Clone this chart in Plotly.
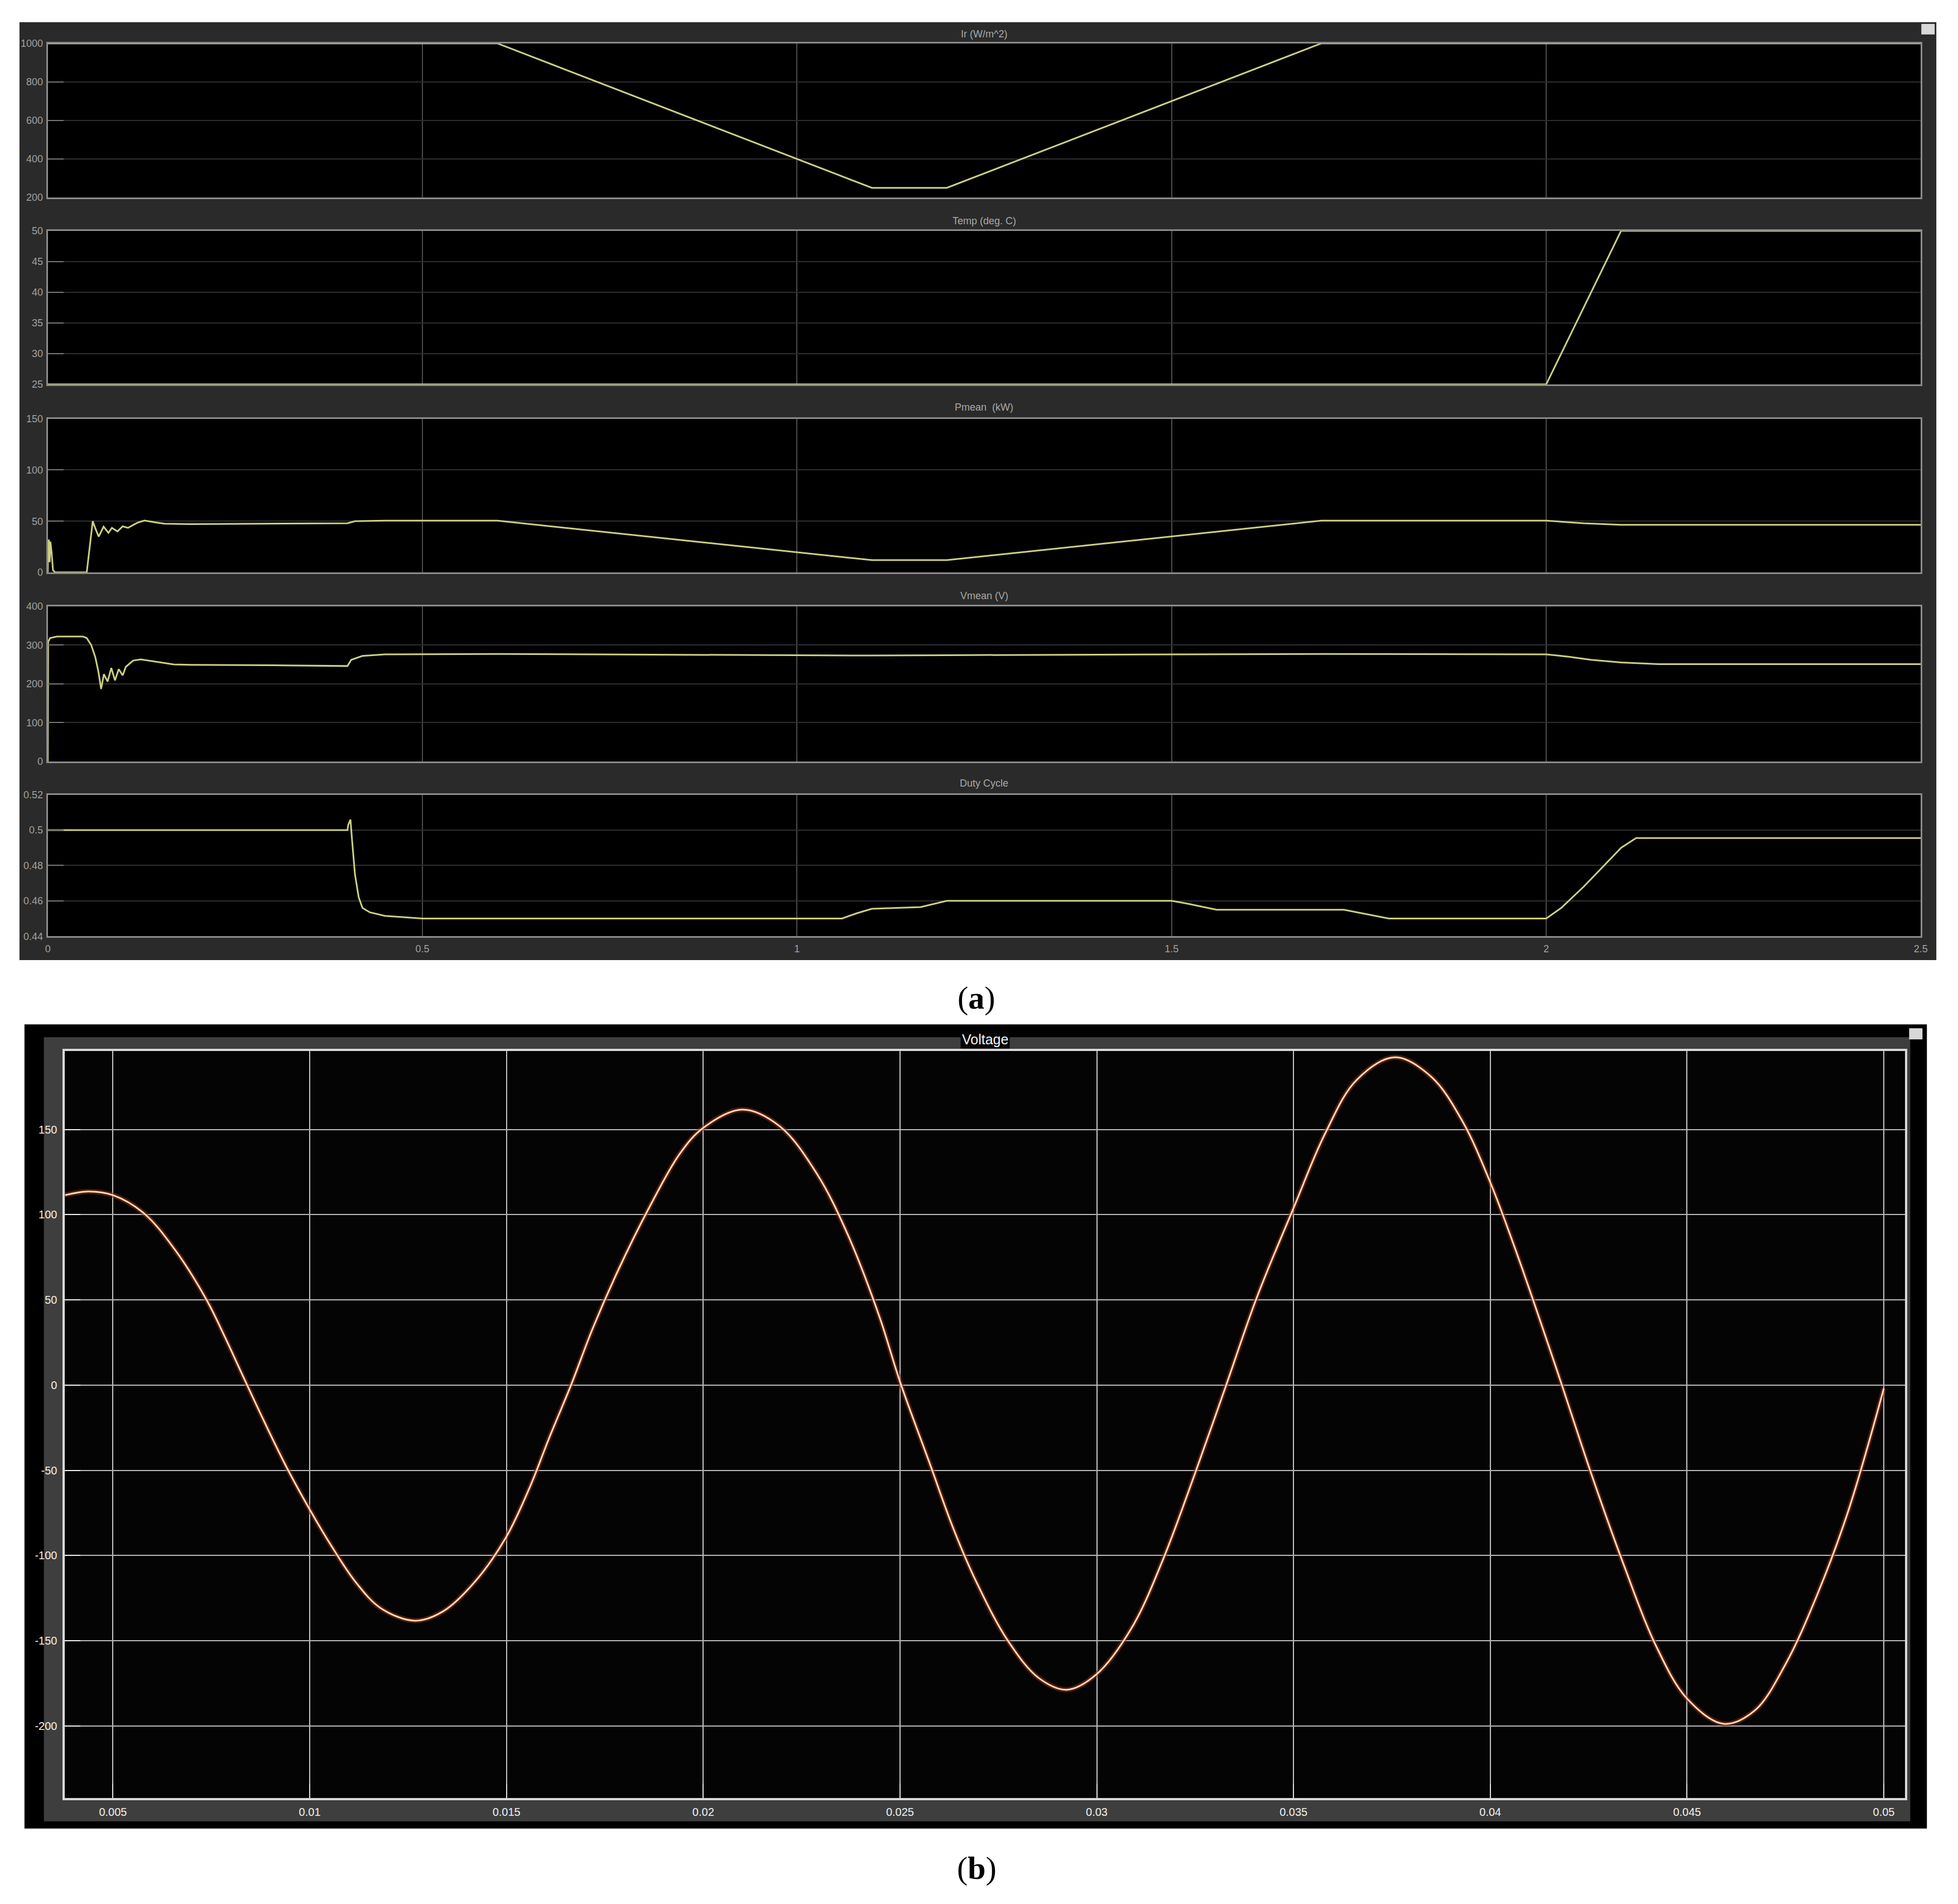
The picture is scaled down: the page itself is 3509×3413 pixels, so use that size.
import plotly.graph_objects as go

W, H = 3509, 3413

# ---------------- data: panel (a) ----------------
t_ir = [0, 0.6, 1.1, 1.2, 1.7, 2.5]
ir = [1000, 1000, 250, 250, 1000, 1000]

t_temp = [0, 2.0, 2.1, 2.5]
temp = [25, 25, 50, 50]

t_p = [0, 0.0005, 0.0015, 0.0025, 0.0035, 0.005, 0.007, 0.01, 0.052, 0.056, 0.06, 0.064, 0.068,
       0.0745, 0.081, 0.0856, 0.093, 0.1, 0.107, 0.119, 0.129, 0.144, 0.156, 0.19, 0.3, 0.4,
       0.41, 0.45, 0.6, 1.0, 1.1, 1.2, 1.7, 2.0, 2.05, 2.1, 2.5]
pmean = [0, 25, 32, 10, 30, 20, 2, 0, 0, 25, 50, 42, 35,
         44.7, 38.6, 43.5, 40, 45, 43.5, 48.3, 50.7, 48.8, 47.6, 47.2, 47.5, 48,
         50, 50.5, 50.5, 20, 12, 12, 50.5, 50.5, 48, 46.5, 46.5]

t_v = [0, 0.0005, 0.003, 0.012, 0.047, 0.052, 0.058, 0.0634, 0.0676, 0.0712, 0.0749, 0.0798,
       0.0848, 0.0897, 0.0947, 0.1, 0.1042, 0.114, 0.124, 0.144, 0.168, 0.19, 0.3, 0.4, 0.405,
       0.42, 0.45, 0.6, 1.0, 1.1, 1.2, 1.5, 1.7, 2.0, 2.03, 2.06, 2.1, 2.15, 2.5]
vmean = [0, 308, 318, 322, 322, 318, 300, 269, 231, 187, 225, 206,
         241, 209, 238, 222, 244, 260, 263, 257, 250, 249, 248, 246, 262,
         272, 276, 277, 274, 273, 274, 276, 277, 276, 270, 262, 255, 251, 251]

t_d = [0, 0.4, 0.401, 0.404, 0.406, 0.41, 0.415, 0.42, 0.43, 0.45, 0.5, 1.06, 1.08, 1.1, 1.165,
       1.18, 1.2, 1.22, 1.5, 1.52, 1.56, 1.73, 1.76, 1.79, 2.0, 2.02, 2.05, 2.08, 2.1, 2.12, 2.5]
duty = [0.5, 0.5, 0.503, 0.506, 0.495, 0.475, 0.462, 0.456, 0.4535, 0.4515, 0.45, 0.45, 0.453,
        0.4555, 0.4565, 0.458, 0.46, 0.46, 0.46, 0.4585, 0.455, 0.455, 0.4525, 0.45, 0.45, 0.456,
        0.468, 0.481, 0.49, 0.4955, 0.4955]

a_titles = ["Ir (W/m^2)", "Temp (deg. C)", "Pmean  (kW)", "Vmean (V)", "Duty Cycle"]
a_xticks = [0, 0.5, 1, 1.5, 2, 2.5]
a_xticktext = ["0", "0.5", "1", "1.5", "2", "2.5"]
a_yticks = [
    [200, 400, 600, 800, 1000],
    [25, 30, 35, 40, 45, 50],
    [0, 50, 100, 150],
    [0, 100, 200, 300, 400],
    [0.44, 0.46, 0.48, 0.5, 0.52],
]
a_yticktext = [
    ["200", "400", "600", "800", "1000"],
    ["25", "30", "35", "40", "45", "50"],
    ["0", "50", "100", "150"],
    ["0", "100", "200", "300", "400"],
    ["0.44", "0.46", "0.48", "0.5", "0.52"],
]
a_yranges = [[200, 1000], [25, 50], [0, 150], [0, 400], [0.44, 0.52]]

# ---------------- data: panel (b) ----------------
vt = [0.00378, 0.00437, 0.005, 0.00579, 0.00658, 0.00738, 0.00785, 0.00833, 0.00896, 0.00943,
      0.01, 0.01054, 0.01118, 0.01181, 0.01268, 0.01339, 0.01418, 0.01498, 0.01561, 0.01608,
      0.01664, 0.01719, 0.01783, 0.01862, 0.01941, 0.02, 0.02099, 0.02194, 0.02289, 0.02368,
      0.02448, 0.025, 0.02574, 0.02637, 0.02695, 0.02774, 0.02853, 0.02924, 0.03, 0.0309,
      0.03169, 0.03248, 0.03328, 0.03407, 0.035, 0.03581, 0.0366, 0.03758, 0.0385, 0.03929,
      0.04, 0.04071, 0.0415, 0.04182, 0.04261, 0.0434, 0.04419, 0.045, 0.04593, 0.04672,
      0.04751, 0.0483, 0.04909, 0.05]
vv = [111.5, 113.7, 111.5, 100.8, 79.3, 50, 28, 4, -27, -49,
      -73, -94, -116, -131, -138.3, -132.8, -115.9, -89.7, -59, -31.3,
      0, 33.2, 67, 103.9, 136, 151, 161.7, 152, 124, 88,
      40, 2, -45, -85, -116, -150, -172, -178.8, -169.6, -142,
      -102, -52.9, -0.6, 51.6, 103.9, 148, 179, 192.4, 181, 155,
      119, 75, 22, 0, -55, -106, -152, -184, -198.8, -191,
      -163.5, -123.5, -74.4, -2]

b_xticks = [0.005, 0.01, 0.015, 0.02, 0.025, 0.03, 0.035, 0.04, 0.045, 0.05]
b_xticktext = ["0.005", "0.01", "0.015", "0.02", "0.025", "0.03", "0.035", "0.04", "0.045", "0.05"]
b_yticks = [150, 100, 50, 0, -50, -100, -150, -200]
b_yticktext = ["150", "100", "50", "0", "-50", "-100", "-150", "-200"]


def PX(x):
    return x / W


def PY(y):
    return 1 - y / H


def prect(x0, y0, x1, y1, color):
    return dict(type="rect", xref="paper", yref="paper", x0=PX(x0), x1=PX(x1),
                y0=PY(y1), y1=PY(y0), fillcolor=color, line=dict(width=0), layer="below")


fig = go.Figure()
shapes = [
    prect(22, 22, 3475, 1713, "#2a2a2a"),      # panel (a) frame
    prect(31, 1829, 3458, 3279, "#000000"),    # panel (b) frame
    prect(66, 1852, 3428, 3266, "#3e3e3e"),    # panel (b) grey band
]

# ---------- panel (a) ----------
a_series = [(t_ir, ir), (t_temp, temp), (t_p, pmean), (t_v, vmean), (t_d, duty)]
a_top = [60, 398, 737, 1075, 1415]
a_bot = [338, 675, 1014, 1355, 1670]
a_title_y = [43, 380, 716, 1056, 1394]
xl, xr = 73, 3447
line_col = "rgb(204,208,130)"

for i, (tx, ty) in enumerate(a_series):
    n = i + 1
    xa = "x" if n == 1 else f"x{n}"
    ya = "y" if n == 1 else f"y{n}"
    shapes.append(prect(xl, a_top[i], xr, a_bot[i], "#000000"))
    fig.add_trace(go.Scatter(x=tx, y=ty, mode="lines", xaxis=xa, yaxis=ya,
                             line=dict(color=line_col, width=3), showlegend=False,
                             hoverinfo="skip"))
    xkey = "xaxis" if n == 1 else f"xaxis{n}"
    ykey = "yaxis" if n == 1 else f"yaxis{n}"
    fig.layout[xkey] = dict(
        domain=[PX(xl), PX(xr)], anchor=ya, range=[0, 2.5],
        tickvals=a_xticks, ticktext=a_xticktext,
        showticklabels=(n == 5), ticks="",
        showgrid=True, gridcolor="#4c4c4c", gridwidth=2,
        showline=True, mirror=True, linecolor="#8a8a8a", linewidth=3,
        zeroline=False, tickfont=dict(size=18, color="#a0a0a0", family="Liberation Sans"),
        ticklabelstandoff=4,
    )
    fig.layout[ykey] = dict(
        domain=[PY(a_bot[i]), PY(a_top[i])], anchor=xa, range=a_yranges[i],
        tickvals=a_yticks[i], ticktext=a_yticktext[i],
        ticks="inside", ticklen=28, tickwidth=2, tickcolor="#777777",
        showgrid=True, gridcolor="#2e2e2e", gridwidth=2,
        showline=True, mirror=True, linecolor="#8a8a8a", linewidth=3,
        zeroline=False, tickfont=dict(size=18, color="#a0a0a0", family="Liberation Sans"),
        ticklabelstandoff=2,
    )
    fig.add_annotation(text=a_titles[i], x=PX((xl + xr) / 2), y=PY(a_title_y[i]),
                       xref="paper", yref="paper", showarrow=False,
                       font=dict(size=18, color="#a8a8a8", family="Liberation Sans"),
                       xanchor="center", yanchor="middle")

# ---------- panel (b) ----------
bx0, bx1, by0, by1 = 104, 3419, 1877, 3224
shapes.append(prect(bx0, by0, bx1, by1, "#040404"))
fig.add_trace(go.Scatter(x=vt, y=vv, mode="lines", xaxis="x6", yaxis="y6",
                         line=dict(color="rgba(150,45,15,0.55)", width=9, shape="spline", smoothing=1.0),
                         showlegend=False, hoverinfo="skip"))
fig.add_trace(go.Scatter(x=vt, y=vv, mode="lines", xaxis="x6", yaxis="y6",
                         line=dict(color="#fcdcbc", width=3, shape="spline", smoothing=1.0),
                         showlegend=False, hoverinfo="skip"))
fig.layout["xaxis6"] = dict(
    domain=[PX(bx0), PX(bx1)], anchor="y6", range=[0.003781, 0.050545],
    tickvals=b_xticks, ticktext=b_xticktext, ticks="inside", ticklen=26, tickwidth=2,
    tickcolor="#e0e0e0",
    showgrid=True, gridcolor="#c4c4c4", gridwidth=2,
    showline=True, mirror=True, linecolor="#d8d8d8", linewidth=4, zeroline=False,
    tickfont=dict(size=20, color="#f0f0f0", family="Liberation Sans"),
    ticklabelstandoff=4,
)
fig.layout["yaxis6"] = dict(
    domain=[PY(by1), PY(by0)], anchor="x6", range=[-242.4, 196.1],
    tickvals=b_yticks, ticktext=b_yticktext, ticks="inside", ticklen=28, tickwidth=2,
    tickcolor="#f0f0f0",
    showgrid=True, gridcolor="#b8b8b8", gridwidth=2,
    showline=True, mirror=True, linecolor="#d8d8d8", linewidth=4, zeroline=False,
    tickfont=dict(size=20, color="#f0f0f0", family="Liberation Sans"),
    ticklabelstandoff=6,
)
fig.add_annotation(text="Voltage", x=PX((bx0 + bx1) / 2), y=PY(1856), xref="paper", yref="paper",
                   showarrow=False, font=dict(size=25, color="#f2f2f2", family="Liberation Sans"),
                   bgcolor="#050505", xanchor="center", yanchor="middle", borderpad=2)

# small window icons at the top-right corners
shapes.append(dict(type="rect", xref="paper", yref="paper", x0=PX(3448), x1=PX(3472),
                   y0=PY(44), y1=PY(25), fillcolor="#d8d8d8", line=dict(width=0)))
shapes.append(dict(type="rect", xref="paper", yref="paper", x0=PX(3426), x1=PX(3450),
                   y0=PY(1856), y1=PY(1836), fillcolor="#d8d8d8", line=dict(width=0)))
fig.update_layout(shapes=shapes)

fig.add_annotation(text="(<b>a</b>)", x=PX(1746), y=PY(1781), xref="paper", yref="paper",
                   showarrow=False, font=dict(size=58, color="#000000", family="Liberation Serif"),
                   xanchor="center", yanchor="middle")
fig.add_annotation(text="(<b>b</b>)", x=PX(1746), y=PY(3350), xref="paper", yref="paper",
                   showarrow=False, font=dict(size=58, color="#000000", family="Liberation Serif"),
                   xanchor="center", yanchor="middle")

fig.update_layout(width=W, height=H, margin=dict(l=0, r=0, t=0, b=0),
                  paper_bgcolor="white", plot_bgcolor="black", showlegend=False)

fig.write_html("out.html")
